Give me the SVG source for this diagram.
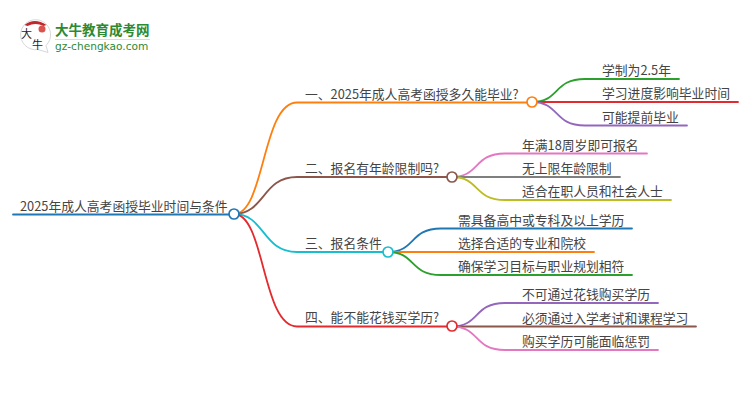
<svg xmlns="http://www.w3.org/2000/svg" width="750" height="410" viewBox="0 0 750 410">
<style>
text{font-family:"Noto Sans CJK SC","Liberation Sans",sans-serif;fill:#444}
.t{font-size:12.8px}
.l{fill:none;stroke-width:1.8;stroke-linecap:round}
.n{fill:#fff;stroke-width:1.7}
.blue{stroke:#1f77b4}.orange{stroke:#ff7f0e}.green{stroke:#2ca02c}.red{stroke:#e32a2e}.purple{stroke:#9467bd}.brown{stroke:#8c564b}.pink{stroke:#e377c2}.gray{stroke:#7f7f7f}.olive{stroke:#bcbd22}.cyan{stroke:#17becf}
</style>
<rect width="750" height="410" fill="#fff"/>
<g id="logo">
<path d="M38 49.500a15 15 0 1 1 8-4l2 7z" fill="#fff" stroke="#d8d8d8" stroke-width="1"/>
<path d="M24.500 25q10-8 22 0l-3 1q-8-4-16 0z" fill="#c0282d"/>
<circle cx="42" cy="29" r="3.500" fill="#d9534f"/>
<text x="21" y="38" style="font-size:11px;fill:#222">大</text>
<text x="32" y="49" style="font-size:11px;fill:#222">牛</text>
<text x="55" y="35" style="font-size:13.500px;font-weight:700;fill:#2c8a33">大牛教育成考网</text>
<line x1="55" y1="39.500" x2="150" y2="39.500" stroke="#cfe3d0"/>
<text x="55" y="49.500" style="font-family:'DejaVu Sans',sans-serif;font-size:10.600px;fill:#2c8a33">gz-chengkao.com</text>
</g>
<g id="connectors">
<path class="l blue" d="M13 214.500H234"/>
<path class="l orange" d="M234 214C265 214 262 102.500 297 102.500H532"/>
<path class="l brown" d="M234 214C265 214 262 177 297 177H452"/>
<path class="l cyan" d="M234 214C265 214 262 252 297 252H388"/>
<path class="l red" d="M234 214C265 214 262 326.500 297 326.500H452"/>
<path class="l green" d="M532 102C560 102 553 79 585 79H679"/>
<path class="l red" d="M532 102H738"/>
<path class="l purple" d="M532 102C560 102 553 125.500 585 125.500H687"/>
<path class="l pink" d="M452 177C480 177 473 153.500 505 153.500H647"/>
<path class="l gray" d="M452 177H620"/>
<path class="l olive" d="M452 177C480 177 473 200 505 200H671"/>
<path class="l blue" d="M388 252C416 252 409 228.500 441 228.500H632"/>
<path class="l orange" d="M388 252H594"/>
<path class="l green" d="M388 252C416 252 409 275 441 275H632"/>
<path class="l purple" d="M452 326.500C480 326.500 473 303 505 303H658"/>
<path class="l brown" d="M452 326.500H696"/>
<path class="l pink" d="M452 326.500C480 326.500 473 350 505 350H658"/>
</g>
<g id="root"><text class="t" x="20" y="211">2025年成人高考函授毕业时间与条件</text><circle class="n blue" cx="234" cy="214" r="5"/></g>
<g id="b1"><text class="t" x="305" y="99">一、2025年成人高考函授多久能毕业?</text><circle class="n orange" cx="532" cy="102" r="5"/></g>
<g id="b2"><text class="t" x="305" y="173">二、报名有年龄限制吗?</text><circle class="n brown" cx="452" cy="177" r="5"/></g>
<g id="b3"><text class="t" x="305" y="248">三、报名条件</text><circle class="n cyan" cx="388" cy="252" r="5"/></g>
<g id="b4"><text class="t" x="305" y="322">四、能不能花钱买学历?</text><circle class="n red" cx="452" cy="326" r="5"/></g>
<g id="leaf11"><text class="t" x="602" y="75">学制为2.5年</text></g>
<g id="leaf12"><text class="t" x="602" y="98">学习进度影响毕业时间</text></g>
<g id="leaf13"><text class="t" x="602" y="122">可能提前毕业</text></g>
<g id="leaf21"><text class="t" x="522" y="150">年满18周岁即可报名</text></g>
<g id="leaf22"><text class="t" x="522" y="173">无上限年龄限制</text></g>
<g id="leaf23"><text class="t" x="522" y="196">适合在职人员和社会人士</text></g>
<g id="leaf31"><text class="t" x="458" y="225">需具备高中或专科及以上学历</text></g>
<g id="leaf32"><text class="t" x="458" y="248">选择合适的专业和院校</text></g>
<g id="leaf33"><text class="t" x="458" y="271">确保学习目标与职业规划相符</text></g>
<g id="leaf41"><text class="t" x="522" y="299">不可通过花钱购买学历</text></g>
<g id="leaf42"><text class="t" x="522" y="323">必须通过入学考试和课程学习</text></g>
<g id="leaf43"><text class="t" x="522" y="346">购买学历可能面临惩罚</text></g>
</svg>
